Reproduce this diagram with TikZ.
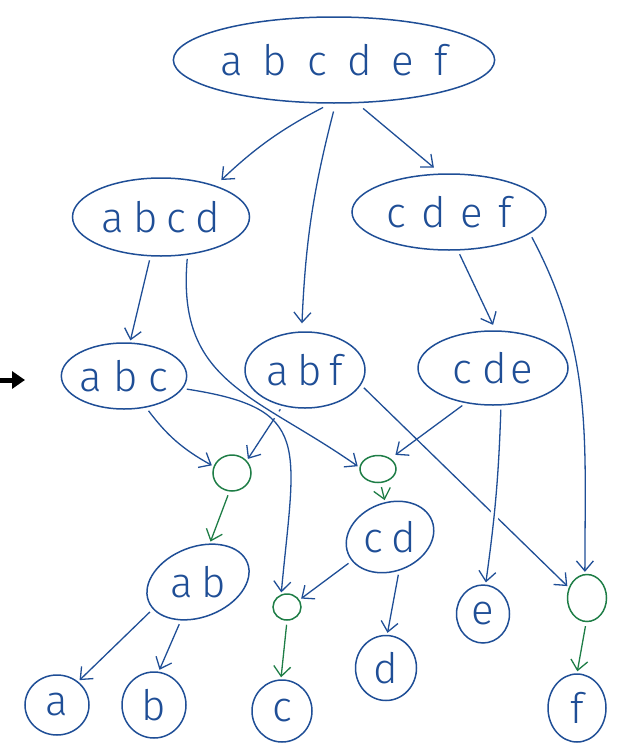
\documentclass[tikz,border=0pt]{standalone}
\usepackage{fontspec}
\setmainfont{Fira Sans Light}
\usetikzlibrary{shapes.geometric,arrows.meta}
\definecolor{ink}{HTML}{1F4E96}
\definecolor{leaf}{HTML}{1E7D46}
% horizontal gap between letters of a set
\newcommand\lgap[1]{\hspace{#1pt}}

\begin{document}
\begin{tikzpicture}[x=1pt,y=-1pt,
  set/.style={ellipse, draw=ink, line width=1.5pt, text=ink, inner sep=0pt,
              font=\fontsize{42}{42}\selectfont},
  meet/.style={ellipse, draw=leaf, line width=1.5pt, inner sep=0pt},
  link/.style={draw=ink, line width=1.3pt,
               -{Straight Barb[length=10pt,width=17pt,line width=1.3pt]},
               shorten <=4pt, shorten >=2pt},
  glink/.style={link, draw=leaf},
  over/.style={preaction={draw=white, line width=8pt, arrows=-,
               shorten <=25pt, shorten >=25pt}}]
\useasboundingbox (0,0) rectangle (621,744);

% sets
\node[set, minimum width=312pt, minimum height=86pt] (top) at (334,60)
  {a\lgap{20}b\lgap{20}c\lgap{20}d\lgap{20}e\lgap{20}f\hspace{16pt}};
\node[set, minimum width=177pt, minimum height=78pt] (abcd) at (161,217)
  {a\lgap{9}b\lgap{9}c\lgap{9}d\hspace{18pt}};
\node[set, minimum width=194pt, minimum height=76pt] (cdef) at (449,212)
  {c\lgap{15}d\lgap{15}e\lgap{15}f\hspace{10pt}};
\node[set, minimum width=124pt, minimum height=66pt] (abc) at (124,376)
  {a\lgap{11}b\lgap{11}c\hspace{20pt}};
\node[set, minimum width=120pt, minimum height=76pt] (abf) at (305,370)
  {a\lgap{8}b\lgap{8}f\hspace{8pt}};
\node[set, minimum width=150pt, minimum height=74pt] (cde) at (493,368)
  {c\lgap{10}d\lgap{4}e\hspace{10pt}};
\node[set, rotate=21, minimum width=106pt, minimum height=64pt] (ab) at (198,582)
  {\rotatebox{-21}{a\lgap{9}b}};
\node[set, rotate=21, minimum width=90pt, minimum height=60pt] (cd) at (390,537)
  {\rotatebox{-21}{c\lgap{8}d}};

% singletons
\node[set, minimum width=64pt, minimum height=60pt] (a) at (57,705) {a};
\node[set, minimum width=64pt, minimum height=66pt] (b) at (154,705) {b};
\node[set, minimum width=60pt, minimum height=62pt] (c) at (282,711) {c};
\node[set, minimum width=61pt, minimum height=65pt] (d) at (386,668) {d};
\node[set, minimum width=53pt, minimum height=58pt] (e) at (483,614) {e};
\node[set, minimum width=58pt, minimum height=68pt] (f) at (577,708) {f};

% join points
\node[meet, minimum width=38pt, minimum height=36pt] (g1) at (232,473) {};
\node[meet, minimum width=36pt, minimum height=27pt] (g2) at (378,469) {};
\node[meet, minimum width=28pt, minimum height=26pt] (g3) at (287,607) {};
\node[meet, minimum width=39pt, minimum height=47pt] (g4) at (587,598) {};

% marker on the left
\coordinate (m0) at (0,380);
\coordinate (m1) at (25,380);
\draw[line width=5pt, -{Triangle[length=13pt,width=17pt]}] (m0) -- (m1);

% edges
\draw[link, shorten <=8pt, shorten >=8pt] (top.265) to[bend right=8] (abcd.30);
\draw[link, shorten <=8pt, shorten >=8pt] (top.272) to[bend right=6] (abf.95);
\draw[link, shorten <=8pt, shorten >=9pt] (top.298) -- (cdef.102);

\draw[link, shorten <=4pt] (abcd.255) -- (abc.80);
\draw[link] (abf.238) -- (g1.40);
\draw[link, over] (abcd.305) to[out=-95, in=145, looseness=1.2] (g2.175);
\draw[link, shorten <=4pt, shorten >=6pt] (cdef.283) -- (cde.86);
\draw[link] (cdef.345) to[out=-62, in=90] (g4.95);

\draw[link] (abc.-55) to[bend right=12] (g1.160);
\draw[link] (abc.-12) .. controls +(130,20) and +(14,-150) .. (g3.115);
\draw[link] (abf.-15) -- (g4.150);
\draw[link, shorten >=6pt] (cde.232) -- (g2.40);
\draw[link, over] (cde.-78) to[bend left=3] (e.85);

\draw[glink] (g1.262) -- (ab.52);
\draw[glink] (g2.-80) -- (cd.77);
\draw[link] (ab.190) -- (a.48);
\draw[link] (ab.225) -- (b.82);
\draw[link] (cd.191) -- (g3.30);
\draw[link] (cd.264) -- (d.88);
\draw[glink] (g3.-90) -- (c.92);
\draw[glink] (g4.-92) -- (f.90);
\end{tikzpicture}
\end{document}
